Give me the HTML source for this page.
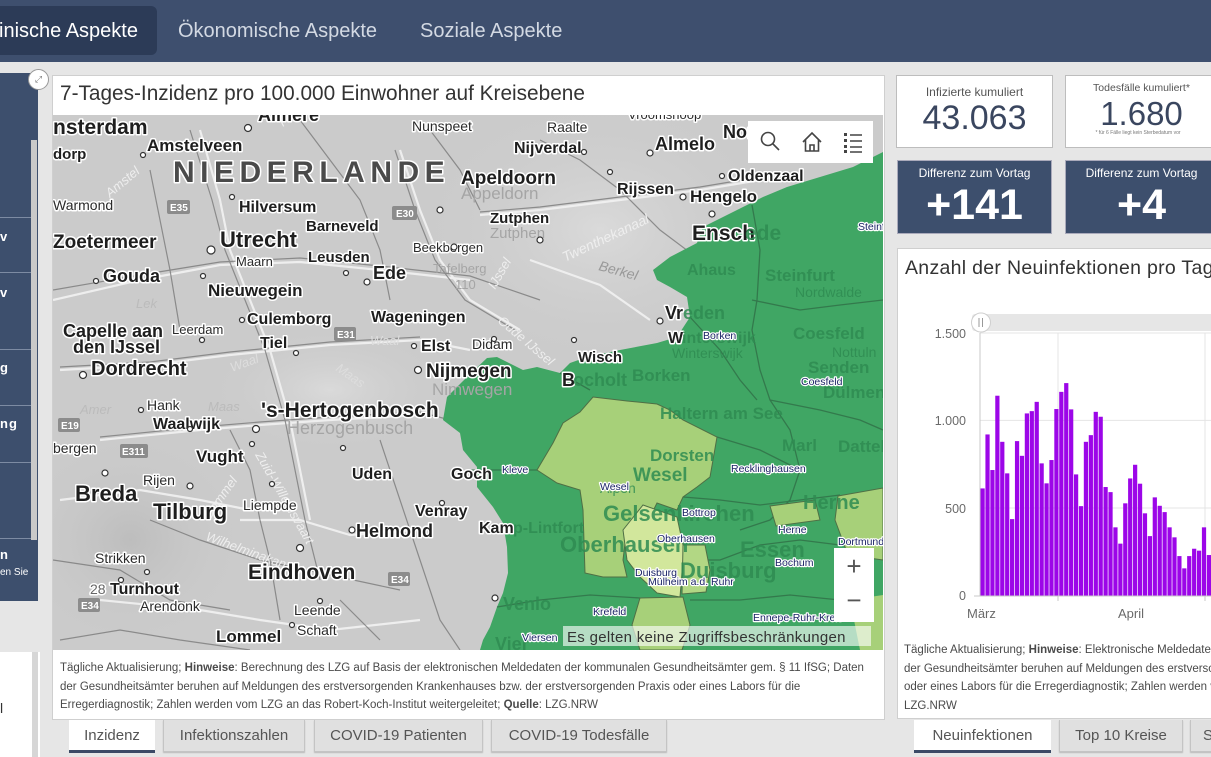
<!DOCTYPE html>
<html><head><meta charset="utf-8">
<style>
*{box-sizing:border-box;margin:0;padding:0}
html,body{width:1211px;height:757px;overflow:hidden}
body{background:#e6e6e6;font-family:"Liberation Sans",Arial,sans-serif}
#wrap{position:relative;width:1211px;height:757px;overflow:hidden;background:#e6e6e6}
.abs{position:absolute}
.nav{left:0;top:0;width:1211px;height:62px;background:#3e4f6e}
.navt{position:absolute;top:19px;font-size:20px;color:#d3d9e3;white-space:nowrap;line-height:24px}
.panel{background:#fff;border:1px solid #cfcfcf}
.tab{position:absolute;top:720px;height:32px;background:#e0e0e0;border:1px solid #c4c4c4;border-top:none;font-size:15px;color:#555;text-align:center;line-height:32px;white-space:nowrap;box-shadow:0 1px 1px #bbb;overflow:hidden}
.tab.act{background:#fff;border:none;border-bottom:3px solid #3b4a66;box-shadow:none;height:33px}
.txt{font-size:11.5px;line-height:18.5px;color:#4a4a4a;white-space:nowrap}
.sb{position:absolute;left:0;font-size:13px;color:#fff;letter-spacing:1px;font-weight:bold}
.sep{position:absolute;left:0;width:31px;height:1px;background:#7d8ba3}
svg text{font-family:"Liberation Sans",Arial,sans-serif}
.h{paint-order:stroke;stroke:#fff;stroke-width:3px;stroke-linejoin:round}
.b{font-weight:bold;fill:#1e1e1e}
.n{fill:#2a2a2a}
.g{fill:#2f8c52;font-weight:bold;opacity:.85}
.s{fill:#1b2466;font-size:10.5px;paint-order:stroke;stroke:#fff;stroke-width:2.4px;stroke-linejoin:round}
.rv{fill:#eeeeee;font-style:italic}
</style></head><body><div id="wrap">

<!-- NAV -->
<div class="abs nav">
  <div class="abs" style="left:-10px;top:6px;width:167px;height:49px;background:#2c3b57;border-radius:6px"></div>
  <div class="navt" style="left:-1px;color:#fff">inische Aspekte</div>
  <div class="navt" style="left:178px">Ökonomische Aspekte</div>
  <div class="navt" style="left:420px">Soziale Aspekte</div>
</div>

<!-- LEFT SIDEBAR -->
<div class="abs" style="left:0;top:73px;width:38px;height:528px;background:#3d4f6d"></div>
<div class="abs" style="left:31px;top:140px;width:6px;height:400px;background:#c9c9c9"></div>
<div class="sep" style="top:217px"></div>
<div class="sep" style="top:272px"></div>
<div class="sep" style="top:349px"></div>
<div class="sep" style="top:405px"></div>
<div class="sep" style="top:462px"></div>
<div class="sep" style="top:538px"></div>
<div class="sb" style="top:229px">v</div>
<div class="sb" style="top:285px">v</div>
<div class="sb" style="top:360px">g</div>
<div class="sb" style="top:416px">ng</div>
<div class="sb" style="top:547px">n</div>
<div class="sb" style="top:567px;font-size:10px;font-weight:normal;letter-spacing:0">en Sie</div>
<div class="abs" style="left:0;top:652px;width:40px;height:105px;background:#fff"></div>
<div class="abs" style="left:32px;top:652px;width:6px;height:105px;background:#d6d6d6"></div>
<div class="abs" style="left:0;top:700px;font-size:14px;color:#333">l</div>
<div class="abs" style="left:28px;top:69px;width:21px;height:21px;border-radius:50%;background:#fff;border:1px solid #999;font-size:9px;color:#777;text-align:center;line-height:18px">⤢</div>

<!-- MAP PANEL -->
<div class="abs panel" style="left:52px;top:75px;width:833px;height:645px"></div>
<div class="abs" style="left:60px;top:82px;font-size:20.8px;color:#333;white-space:nowrap">7-Tages-Inzidenz pro 100.000 Einwohner auf Kreisebene</div>

<div class="abs" style="left:53px;top:115px;width:830px;height:535px;overflow:hidden">
<svg width="830" height="535" viewBox="53 115 830 535" xmlns="http://www.w3.org/2000/svg">
 <defs>
  <radialGradient id="lg1" cx="0.5" cy="0.5" r="0.5"><stop offset="0" stop-color="#dadada"/><stop offset="1" stop-color="#cdcdcd" stop-opacity="0"/></radialGradient>
  <radialGradient id="dg1" cx="0.5" cy="0.5" r="0.5"><stop offset="0" stop-color="#bdbdbd"/><stop offset="1" stop-color="#cdcdcd" stop-opacity="0"/></radialGradient>
 </defs>
 <rect x="53" y="115" width="830" height="535" fill="#cbcbcb"/>
 <ellipse cx="600" cy="230" rx="180" ry="130" fill="url(#lg1)"/>
 <ellipse cx="130" cy="540" rx="130" ry="120" fill="url(#dg1)"/>
 <ellipse cx="330" cy="390" rx="120" ry="60" fill="url(#lg1)"/>
 <!-- roads -->
 <g fill="none" stroke="#f2f2f2" stroke-width="2.2" opacity=".9">
  <path d="M53 300 L140 280 L220 265 L300 262 L380 270 L470 280"/>
  <path d="M60 370 L150 365 L230 355 L330 345 L420 340 L470 350"/>
  <path d="M100 440 L200 430 L260 425 L330 420 L420 415"/>
  <path d="M240 520 L300 520 L350 535 L420 530"/>
  <path d="M200 130 L220 200 L230 250 L250 300 L270 350 L290 420 L300 470 L310 520"/>
  <path d="M400 150 L420 210 L440 260 L470 300 L520 330"/>
  <path d="M480 215 L540 210 L620 200 L700 190 L760 180"/>
  <path d="M530 260 L600 285 L650 320"/>
  <path d="M100 600 L200 610 L260 620 L330 630 L420 620"/>
  <path d="M60 500 L140 490 L200 500 L250 510"/>
 </g>
 <g fill="none" stroke="#7a7a7a" stroke-width="1.2" opacity=".8">
  <path d="M53 290 L140 275 L220 262 L300 258 L380 266 L470 276 L540 300"/>
  <path d="M60 367 L150 362 L230 352 L330 342 L420 337"/>
  <path d="M100 437 L200 427 L260 422 L330 417 L420 412 L450 420"/>
  <path d="M190 130 L212 200 L225 250 L245 300 L265 350 L285 420 L295 470 L305 520 L320 580"/>
  <path d="M395 150 L415 210 L435 260 L465 300 L515 330"/>
  <path d="M480 212 L540 207 L620 197 L700 187 L760 177"/>
  <path d="M380 440 L400 500 L420 560 L440 620 L460 650"/>
  <path d="M150 520 L200 540 L260 560 L330 575 L400 590"/>
  <path d="M53 560 L120 570 L170 600 L230 610"/>
  <path d="M300 120 L330 160 L360 200 L380 250 L390 300"/>
  <path d="M540 140 L580 160 L620 190 L660 230 L700 260"/>
  <path d="M430 130 L460 170 L480 210"/>
  <path d="M150 170 L160 220 L170 270 L180 330"/>
  <path d="M230 430 L250 470 L260 520 L270 560 L280 620"/>
  <path d="M60 640 L120 630 L180 640 L250 650"/>
  <path d="M340 600 L380 640"/>
 </g>
 <!-- green region -->
 <polygon fill="#40a664" points="883,152 873,157 853,167 820,177 787,187 763,197 737,210 723,217 703,227 697,243 670,257 653,270 657,280 670,287 687,297 690,317 677,337 657,343 620,350 587,357 570,363 560,373 537,367 523,370 497,357 487,358 467,377 447,397 443,420 460,433 463,450 477,467 477,487 493,507 503,523 507,547 508,573 503,593 497,607 490,627 483,640 480,650 883,650"/>
 <g fill="none" stroke="#2f6b45" stroke-width="1.3" opacity=".75">
  <path d="M752 205 L760 250 L757 300 L752 330 L760 370 L770 400 L790 430 L800 470 L790 500 L770 520 L740 530"/>
  <path d="M752 300 L800 310 L840 305 L883 300"/>
  <path d="M770 400 L820 410 L860 420 L883 430"/>
  <path d="M690 317 L720 350 L740 380 L757 400"/>
  <path d="M560 373 L590 390"/>
  <path d="M717 437 L760 450 L800 470"/>
  <path d="M683 497 L720 500 L760 505 L800 500 L840 495"/>
  <path d="M683 560 L720 560 L760 545 L800 540 L840 545"/>
  <path d="M690 600 L740 600 L790 595 L840 600"/>
  <path d="M497 607 L540 600 L590 595 L640 598"/>
  <path d="M537 470 L500 470 L470 470"/>
 </g>
 <!-- light green -->
 <polygon fill="#a7d079" stroke="#4f6f45" stroke-width="1" points="593,397 627,401 657,404 670,410 683,420 717,437 713,460 710,477 697,487 683,497 677,510 657,503 650,517 643,507 627,527 623,560 627,577 603,577 585,573 583,510 580,490 557,483 537,470 553,443 563,423 580,412"/>
 <polygon fill="#d2e79c" stroke="#4f6f45" stroke-width="1" points="643,505 677,517 683,545 683,560 680,597 657,593 640,577 627,560 623,530"/>
 <polygon fill="#b2d784" stroke="#4f6f45" stroke-width="1" points="683,545 705,545 710,570 706,592 682,594"/>
 <polygon fill="#a7d079" stroke="#4f6f45" stroke-width="1" points="640,598 683,597 690,625 682,650 640,650 632,625"/>
 <polygon fill="#a7d079" stroke="#4f6f45" stroke-width="1" points="770,506 815,500 820,520 776,526"/>
 <polygon fill="#a7d079" stroke="#4f6f45" stroke-width="1" points="838,496 883,488 883,560 848,555 835,520"/>
 <polygon fill="#a7d079" points="850,600 883,595 883,650 860,650"/>

 <!-- shields -->
 <g fill="#8c8c8c"><rect x="167" y="200" width="23" height="14" rx="2"/><rect x="392" y="206" width="25" height="14" rx="2"/><rect x="334" y="327" width="22" height="14" rx="2"/><rect x="58" y="418" width="22" height="14" rx="2"/><rect x="120" y="444" width="28" height="14" rx="2"/><rect x="78" y="598" width="22" height="14" rx="2"/><rect x="388" y="572" width="22" height="14" rx="2"/></g>
 <g fill="#fff" font-size="10" font-weight="bold"><text x="170" y="211">E35</text><text x="396" y="217">E30</text><text x="337" y="338">E31</text><text x="61" y="429">E19</text><text x="122" y="455">E311</text><text x="81" y="609">E34</text><text x="391" y="583">E34</text></g>

 <!-- rivers -->
 <g class="rv" font-size="13">
  <text x="110" y="198" transform="rotate(-40 110 198)">Amstel</text>
  <text x="136" y="308" fill="#bbb">Lek</text>
  <text x="80" y="414" fill="#bbb">Amer</text>
  <text x="208" y="411" fill="#bbb">Maas</text>
  <text x="232" y="372" fill="#ddd" transform="rotate(-20 232 372)">Waal</text>
  <text x="335" y="370" fill="#ddd" transform="rotate(35 335 370)">Maas</text>
  <text x="370" y="345" fill="#ddd">Waal</text>
  <text x="495" y="290" transform="rotate(-60 495 290)">IJssel</text>
  <text x="497" y="322" transform="rotate(40 497 322)">Oude IJssel</text>
  <text x="565" y="262" transform="rotate(-25 565 262)" font-size="14">Twenthekanaal</text>
  <text x="598" y="270" transform="rotate(15 598 270)" fill="#999" font-size="14">Berkel</text>
  <text x="255" y="455" transform="rotate(60 255 455)">Zuid-Willemsvaart</text>
  <text x="210" y="520" transform="rotate(-55 210 520)">Dommel</text>
  <text x="205" y="540" transform="rotate(20 205 540)">Wilhelminakanaal</text>
  <text x="283" y="127" transform="rotate(-40 283 127)">Hoge Veluwe</text>
 </g>

 <!-- black labels -->
 <g class="h b">
  <text x="53" y="134" font-size="21">nsterdam</text>
  <text x="258" y="121" font-size="18">Almere</text>
  <text x="723" y="138" font-size="18">Nor</text>
  <text x="53" y="159" font-size="15">dorp</text>
  <text x="147" y="151" font-size="17">Amstelveen</text>
  <text x="514" y="153" font-size="16">Nijverdal</text>
  <text x="655" y="150" font-size="18">Almelo</text>
  <text x="461" y="184" font-size="19">Apeldoorn</text>
  <text x="728" y="181" font-size="16">Oldenzaal</text>
  <text x="617" y="194" font-size="16">Rijssen</text>
  <text x="690" y="202" font-size="17">Hengelo</text>
  <text x="239" y="212" font-size="16">Hilversum</text>
  <text x="490" y="223" font-size="15">Zutphen</text>
  <text x="306" y="231" font-size="15">Barneveld</text>
  <text x="692" y="240" font-size="21">Ensch</text>
  <text x="53" y="248" font-size="19">Zoetermeer</text>
  <text x="220" y="247" font-size="22">Utrecht</text>
  <text x="308" y="262" font-size="15">Leusden</text>
  <text x="103" y="282" font-size="18">Gouda</text>
  <text x="373" y="279" font-size="18">Ede</text>
  <text x="208" y="296" font-size="17">Nieuwegein</text>
  <text x="63" y="337" font-size="18">Capelle aan</text>
  <text x="73" y="353" font-size="18">den IJssel</text>
  <text x="247" y="324" font-size="16">Culemborg</text>
  <text x="371" y="322" font-size="16">Wageningen</text>
  <text x="260" y="348" font-size="16">Tiel</text>
  <text x="421" y="351" font-size="16">Elst</text>
  <text x="578" y="362" font-size="15">Wisch</text>
  <text x="665" y="319" font-size="18">Vr</text>
  <text x="426" y="377" font-size="19">Nijmegen</text>
  <text x="91" y="375" font-size="20">Dordrecht</text>
  <text x="562" y="386" font-size="18">B</text>
  <text x="668" y="343" font-size="16">W</text>
  <text x="261" y="417" font-size="21">'s-Hertogenbosch</text>
  <text x="153" y="429" font-size="16">Waalwijk</text>
  <text x="196" y="462" font-size="17">Vught</text>
  <text x="352" y="479" font-size="16">Uden</text>
  <text x="451" y="479" font-size="16">Goch</text>
  <text x="75" y="501" font-size="22">Breda</text>
  <text x="153" y="519" font-size="22">Tilburg</text>
  <text x="415" y="516" font-size="16">Venray</text>
  <text x="356" y="537" font-size="18">Helmond</text>
  <text x="479" y="533" font-size="16">Kam</text>
  <text x="248" y="579" font-size="21">Eindhoven</text>
  <text x="110" y="594" font-size="16">Turnhout</text>
  <text x="216" y="642" font-size="17">Lommel</text>
 </g>
 <text x="173" y="182" font-size="30" font-weight="bold" fill="#4a4a4a" letter-spacing="5.5" class="h">NIEDERLANDE</text>
 <g class="h n" font-size="14">
  <text x="412" y="131">Nunspeet</text>
  <text x="547" y="132">Raalte</text>
  <text x="628" y="119" font-size="13">Vroomshoop</text>
  <text x="53" y="210">Warmond</text>
  <text x="413" y="252" font-size="13">Beekbergen</text>
  <text x="236" y="266" font-size="13">Maarn</text>
  <text x="172" y="334" font-size="13">Leerdam</text>
  <text x="472" y="349">Didam</text>
  <text x="147" y="410">Hank</text>
  <text x="53" y="453">bergen</text>
  <text x="143" y="485">Rijen</text>
  <text x="243" y="510">Liempde</text>
  <text x="95" y="563">Strikken</text>
  <text x="140" y="611">Arendonk</text>
  <text x="294" y="615">Leende</text>
  <text x="297" y="635">Schaft</text>
  <text x="90" y="594" fill="#666">28</text>
 </g>
 <g fill="#a5a5a5" font-size="17">
  <text x="461" y="199">Appeldorn</text>
  <text x="490" y="238" font-size="15">Zutphen</text>
  <text x="433" y="273" font-size="13">Tafelberg</text>
  <text x="455" y="289" font-size="13">110</text>
  <text x="287" y="434" font-size="18">Herzogenbusch</text>
  <text x="432" y="395">Nimwegen</text>
 </g>
 <!-- green-tinted labels -->
 <g class="g">
  <text x="745" y="240" font-size="21">ede</text>
  <text x="683" y="319" font-size="18">eden</text>
  <text x="682" y="343" font-size="16">interswijk</text>
  <text x="672" y="358" font-size="14" font-weight="normal">Winterswijk</text>
  <text x="687" y="275" font-size="16">Ahaus</text>
  <text x="765" y="281" font-size="17">Steinfurt</text>
  <text x="795" y="297" font-size="14" font-weight="normal">Nordwalde</text>
  <text x="793" y="339" font-size="17">Coesfeld</text>
  <text x="832" y="357" font-size="14" font-weight="normal">Nottuln</text>
  <text x="573" y="386" font-size="18">ocholt</text>
  <text x="632" y="381" font-size="17">Borken</text>
  <text x="808" y="373" font-size="17">Senden</text>
  <text x="823" y="398" font-size="17">Dülmen</text>
  <text x="660" y="419" font-size="17">Haltern am See</text>
  <text x="650" y="461" font-size="17">Dorsten</text>
  <text x="633" y="481" font-size="19">Wesel</text>
  <text x="600" y="493" font-size="14" font-weight="normal">Alpen</text>
  <text x="513" y="533" font-size="16">p-Lintfort</text>
  <text x="603" y="521" font-size="22">Gelsenkirchen</text>
  <text x="560" y="552" font-size="22">Oberhausen</text>
  <text x="740" y="557" font-size="22">Essen</text>
  <text x="680" y="578" font-size="22">Duisburg</text>
  <text x="782" y="451" font-size="17">Marl</text>
  <text x="838" y="452" font-size="17">Datteln</text>
  <text x="803" y="509" font-size="20">Herne</text>
  <text x="503" y="610" font-size="18">Venlo</text>
  <text x="495" y="650" font-size="18">Vier</text>
 </g>
 <!-- small admin labels -->
 <g class="s">
  <text x="703" y="339">Borken</text>
  <text x="801" y="385">Coesfeld</text>
  <text x="502" y="473">Kleve</text>
  <text x="600" y="490">Wesel</text>
  <text x="731" y="472">Recklinghausen</text>
  <text x="682" y="516">Bottrop</text>
  <text x="657" y="542">Oberhausen</text>
  <text x="778" y="533">Herne</text>
  <text x="838" y="545">Dortmund</text>
  <text x="635" y="576">Duisburg</text>
  <text x="648" y="585">Mülheim a.d. Ruhr</text>
  <text x="775" y="566">Bochum</text>
  <text x="593" y="615">Krefeld</text>
  <text x="753" y="621">Ennepe-Ruhr-Kreis</text>
  <text x="522" y="641">Viersen</text>
  <text x="858" y="230">Steinfurt</text>
 </g>
 <!-- city dots -->
 <g fill="#fff" stroke="#333" stroke-width="1.2">
  <circle cx="248" cy="128" r="3.5"/><circle cx="143" cy="155" r="2.5"/><circle cx="232" cy="197" r="2.5"/><circle cx="211" cy="250" r="4"/><circle cx="203" cy="276" r="2.5"/><circle cx="96" cy="281" r="2.5"/><circle cx="367" cy="282" r="3"/><circle cx="346" cy="273" r="2.5"/><circle cx="440" cy="210" r="3"/><circle cx="454" cy="247" r="3"/><circle cx="540" cy="240" r="3"/><circle cx="584" cy="152" r="2.5"/><circle cx="650" cy="153" r="3"/><circle cx="610" cy="172" r="2.5"/><circle cx="683" cy="197" r="3"/><circle cx="722" cy="176" r="2.5"/><circle cx="712" cy="214" r="3"/><circle cx="660" cy="321" r="3"/><circle cx="574" cy="340" r="2.5"/><circle cx="494" cy="339" r="2.5"/><circle cx="418" cy="370" r="3.5"/><circle cx="414" cy="346" r="2.5"/><circle cx="242" cy="320" r="2.5"/><circle cx="296" cy="353" r="2.5"/><circle cx="202" cy="340" r="2.5"/><circle cx="83" cy="375" r="3.5"/><circle cx="141" cy="410" r="2.5"/><circle cx="190" cy="429" r="2.5"/><circle cx="256" cy="429" r="3.5"/><circle cx="252" cy="444" r="2.5"/><circle cx="343" cy="448" r="2.5"/><circle cx="105" cy="473" r="3"/><circle cx="190" cy="486" r="3"/><circle cx="272" cy="484" r="2.5"/><circle cx="352" cy="530" r="3"/><circle cx="442" cy="503" r="2.5"/><circle cx="300" cy="548" r="3.5"/><circle cx="121" cy="580" r="2.5"/><circle cx="147" cy="572" r="2.5"/><circle cx="320" cy="601" r="2.5"/><circle cx="292" cy="625" r="2.5"/><circle cx="495" cy="598" r="3"/>
 </g>
 <!-- attribution -->
 <rect x="563" y="626" width="308" height="20" fill="#fff" opacity=".62"/>
 <text x="567" y="642" font-size="15" fill="#333" letter-spacing=".3">Es gelten keine Zugriffsbeschränkungen</text>
</svg>
</div>

<!-- map controls -->
<div class="abs" style="left:748px;top:121px;width:125px;height:42px;background:#fff"></div>
<svg class="abs" style="left:748px;top:121px" width="125" height="42" viewBox="0 0 125 42">
 <g fill="none" stroke="#444" stroke-width="1.6">
  <circle cx="20" cy="18" r="6.5"/><line x1="25" y1="23" x2="31" y2="29"/>
  <path d="M55 21 L64 12 L73 21 M57.5 19 L57.5 30 L70.5 30 L70.5 19 M62 30 L62 24 L66 24 L66 30"/>
  <path d="M102 14 H114 M102 20 H114 M102 26 H114 M102 31 H114"/>
 </g>
 <g fill="#444"><rect x="96" y="12" width="3" height="3"/><rect x="96" y="18" width="3" height="3"/><rect x="96" y="24" width="3" height="3"/><rect x="96" y="29" width="3" height="3"/></g>
</svg>
<div class="abs" style="left:834px;top:548px;width:40px;height:74px;background:#fff"></div>
<div class="abs" style="left:834px;top:552px;width:40px;text-align:center;font-size:26px;color:#555;line-height:28px">+</div>
<div class="abs" style="left:834px;top:586px;width:40px;text-align:center;font-size:26px;color:#555;line-height:28px">−</div>

<!-- map footnote -->
<div class="abs txt" style="left:60px;top:659px">Tägliche Aktualisierung; <b>Hinweise</b>: Berechnung des LZG auf Basis der elektronischen Meldedaten der kommunalen Gesundheitsämter gem. § 11 IfSG; Daten<br>der Gesundheitsämter beruhen auf Meldungen des erstversorgenden Krankenhauses bzw. der erstversorgenden Praxis oder eines Labors für die<br>Erregerdiagnostik; Zahlen werden vom LZG an das Robert-Koch-Institut weitergeleitet; <b>Quelle</b>: LZG.NRW</div>

<!-- map tabs -->
<div class="tab act" style="left:69px;width:86px">Inzidenz</div>
<div class="tab" style="left:163px;width:142px">Infektionszahlen</div>
<div class="tab" style="left:314px;width:169px">COVID-19 Patienten</div>
<div class="tab" style="left:491px;width:176px">COVID-19 Todesfälle</div>

<!-- KPI cards -->
<div class="abs panel" style="left:896px;top:75px;width:157px;height:73px;border-color:#bdbdbd"></div>
<div class="abs" style="left:896px;top:85px;width:157px;text-align:center;font-size:12px;color:#555">Infizierte kumuliert</div>
<div class="abs" style="left:896px;top:99px;width:157px;text-align:center;font-size:34px;color:#3a465f;line-height:38px">43.063</div>

<div class="abs panel" style="left:1065px;top:75px;width:150px;height:73px;border-color:#bdbdbd"></div>
<div class="abs" style="left:1065px;top:82px;width:153px;text-align:center;font-size:10.5px;color:#555">Todesfälle kumuliert*</div>
<div class="abs" style="left:1065px;top:95px;width:153px;text-align:center;font-size:33px;color:#3a465f;line-height:38px">1.680</div>
<div class="abs" style="left:1065px;top:130px;width:146px;text-align:center;font-size:5px;color:#777;white-space:nowrap;overflow:hidden">* für 6 Fälle liegt kein Sterbedatum vor</div>

<div class="abs" style="left:897px;top:160px;width:155px;height:74px;background:#3d4f6d;border:1px solid #aab"></div>
<div class="abs" style="left:897px;top:166px;width:155px;text-align:center;font-size:12px;color:#fff">Differenz zum Vortag</div>
<div class="abs" style="left:897px;top:182px;width:155px;text-align:center;font-size:43px;font-weight:bold;color:#fff;line-height:46px">+141</div>
<div class="abs" style="left:1065px;top:160px;width:150px;height:74px;background:#3d4f6d;border:1px solid #aab"></div>
<div class="abs" style="left:1065px;top:166px;width:153px;text-align:center;font-size:12px;color:#fff">Differenz zum Vortag</div>
<div class="abs" style="left:1065px;top:182px;width:153px;text-align:center;font-size:43px;font-weight:bold;color:#fff;line-height:46px">+4</div>

<!-- chart panel -->
<div class="abs panel" style="left:897px;top:248px;width:320px;height:471px"></div>
<div class="abs" style="left:905px;top:257px;font-size:19.5px;letter-spacing:.3px;color:#333;white-space:nowrap">Anzahl der Neuinfektionen pro Tag</div>
<svg class="abs" style="left:897px;top:248px" width="314" height="470" viewBox="897 248 314 470">
 <rect x="972" y="314" width="260" height="17" rx="3" fill="#e6e6e6"/>
 <g stroke="#e4e4e4" stroke-width="1">
  <line x1="980" y1="333" x2="1211" y2="333"/>
  <line x1="980" y1="420.4" x2="1211" y2="420.4"/>
  <line x1="980" y1="508" x2="1211" y2="508"/>
  <line x1="1058" y1="333" x2="1058" y2="596"/>
  <line x1="1205" y1="333" x2="1205" y2="596"/>
 </g>
 <g fill="#9c06e8" id="bars"></g>
 <line x1="980" y1="333" x2="980" y2="596" stroke="#c8c8c8"/>
 <line x1="974" y1="596" x2="1211" y2="596" stroke="#c8c8c8"/>
 <g stroke="#c8c8c8"><line x1="1058" y1="596" x2="1058" y2="601"/><line x1="1205" y1="596" x2="1205" y2="601"/></g>
 <g font-size="12.5" fill="#6a6a6a" text-anchor="end">
  <text x="966" y="338">1.500</text><text x="966" y="425">1.000</text><text x="966" y="513">500</text><text x="966" y="600">0</text>
 </g>
 <g font-size="13" fill="#6a6a6a"><text x="967" y="618">März</text><text x="1118" y="618">April</text></g>
 <circle cx="981" cy="322.5" r="9.5" fill="#fff" stroke="#cfcfcf"/>
 <g stroke="#999" stroke-width="1"><line x1="979" y1="318" x2="979" y2="327"/><line x1="982.5" y1="318" x2="982.5" y2="327"/></g>
</svg>
<div class="abs txt" style="left:904px;top:641px">Tägliche Aktualisierung; <b>Hinweise</b>: Elektronische Meldedaten der<br>der Gesundheitsämter beruhen auf Meldungen des erstversorgenden<br>oder eines Labors für die Erregerdiagnostik; Zahlen werden vom LZG<br>LZG.NRW</div>
<div class="tab act" style="left:914px;width:137px">Neuinfektionen</div>
<div class="tab" style="left:1059px;width:124px">Top 10 Kreise</div>
<div class="tab" style="left:1190px;width:40px;text-align:left;padding-left:12px">S</div>

</div>
<script>
(function(){
 var v=[612,920,717,1141,878,698,437,882,798,1040,1053,1106,755,641,774,1065,1163,1213,1063,692,511,878,916,1049,1021,620,591,390,297,527,669,747,639,470,340,561,513,477,390,333,226,156,226,268,257,390,232,156];
 var g=document.getElementById('bars'),ns='http://www.w3.org/2000/svg',w=4.92,base=595.7,k=0.17527;
 for(var i=0;i<v.length;i++){var r=document.createElementNS(ns,'rect');var h=v[i]*k;
 r.setAttribute('x',(980.5+i*w).toFixed(2));r.setAttribute('y',(base-h).toFixed(2));r.setAttribute('width',(w-0.7).toFixed(2));r.setAttribute('height',h.toFixed(2));g.appendChild(r);}
})();
</script>
</body></html>
